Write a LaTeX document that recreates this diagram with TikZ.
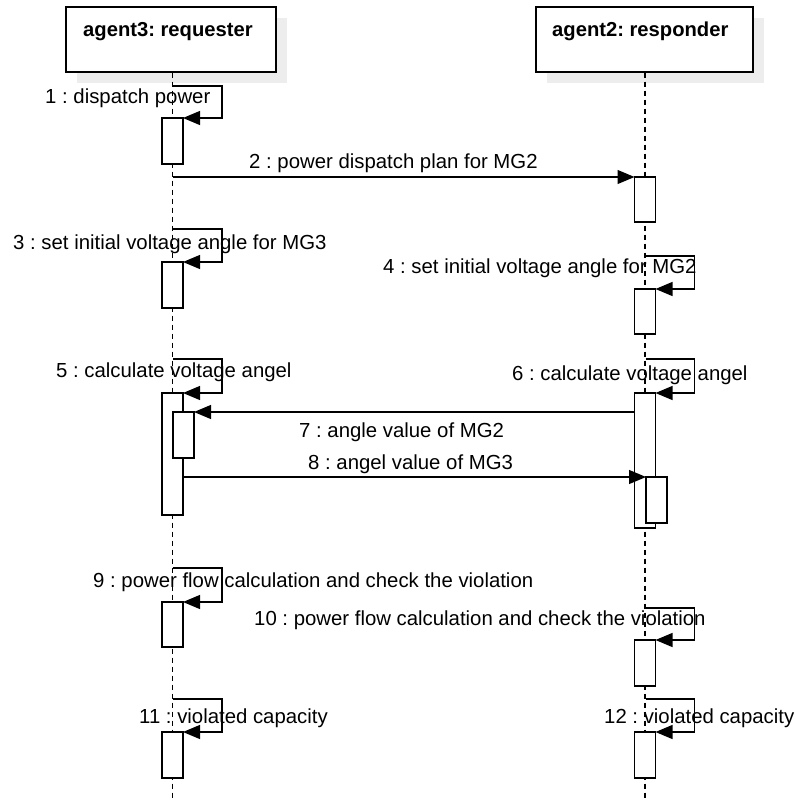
\documentclass[tikz,border=0pt]{standalone}
\usepackage{fontspec}
\setmainfont{Liberation Sans}
\usepackage{tikz}
\usetikzlibrary{shapes}
\usetikzlibrary{arrows.meta}
\usetikzlibrary{shadows}
\usetikzlibrary{positioning}
\frenchspacing

\begin{document}
\begin{tikzpicture}[x=1pt,y=-1pt]
			\tikzset{head/.style = {shape=rectangle,draw,fill=white,line width=1.2pt,
					minimum height=65pt,inner sep=0pt,
					general shadow={fill=black!7,shadow xshift=11pt,shadow yshift=-11pt}}}
			\tikzset{title/.style = {anchor=base west,inner sep=0pt,
					font=\fontsize{20.2}{24}\selectfont\bfseries}}
			\tikzset{act/.style = {shape=rectangle,draw,fill=white,line width=1.2pt,
					minimum width=21pt,inner sep=0pt,outer sep=0pt,anchor=north}}
			\tikzset{msg/.style = {-{Triangle[length=17pt,width=14pt]},line width=1.2pt}}
			\tikzset{lifeline/.style = {line width=1.2pt,dash pattern=on 5pt off 4pt}}
			\tikzset{txt/.style = {anchor=base west,inner sep=0pt,
					font=\fontsize{20.35}{24}\selectfont}}
			
			\useasboundingbox (0,0) rectangle (795,801);
			
			% heads
			\node[head,minimum width=210pt] (a3) at (171,39.5) {};
			\node[head,minimum width=217pt] (a2) at (644.5,39.5) {};
			\node[title] (t3) at (83,36) {agent3: requester};
			\node[title] (t2) at (552,36) {agent2: responder};
			
			% lifelines
			\coordinate (a3end) at (172.5,801);
			\coordinate (a2end) at (645,801);
			\draw[lifeline] (a3.south -| a3end) -- (a3end);
			\draw[lifeline] (a2.south -| a2end) -- (a2end);
			
			% activations
			\node[act,minimum height=46pt] (L1) at (172.5,118) {};
			\node[act,minimum height=45pt] (R2) at (645,177) {};
			\node[act,minimum height=46pt] (L3) at (172.5,262) {};
			\node[act,minimum height=45pt] (R4) at (645,289) {};
			\node[act,minimum height=122pt] (L5) at (172.5,393) {};
			\node[act,minimum height=135pt] (R6) at (645,393) {};
			\node[act,minimum height=46pt] (L7) at (183.5,412) {};
			\node[act,minimum height=46pt] (R8) at (656.5,477) {};
			\node[act,minimum height=45pt] (L9) at (172.5,602) {};
			\node[act,minimum height=46pt] (R10) at (645,640) {};
			\node[act,minimum height=46pt] (L11) at (172.5,732) {};
			\node[act,minimum height=46pt] (R12) at (645,732) {};
			
			% messages
			\draw[msg] (L1.north east) ++(-10,-32) -- ++(49,0) |- (L1.north east);
			\draw[msg] (a3end |- R2.north west) -- (R2.north west);
			\draw[msg] (L3.north east) ++(-10,-33) -- ++(49,0) |- (L3.north east);
			\draw[msg] (R4.north east) ++(-10,-33) -- ++(49,0) |- (R4.north east);
			\draw[msg] (L5.north east) ++(-10,-34) -- ++(49,0) |- (L5.north east);
			\draw[msg] (R6.north east) ++(-10,-34) -- ++(49,0) |- (R6.north east);
			\draw[msg] (R6.west |- L7.north) -- (L7.north east);
			\draw[msg] (L5.east |- R8.north west) -- (R8.north west);
			\draw[msg] (L9.north east) ++(-10,-34) -- ++(49,0) |- (L9.north east);
			\draw[msg] (R10.north east) ++(-10,-32) -- ++(49,0) |- (R10.north east);
			\draw[msg] (L11.north east) ++(-10,-33) -- ++(49,0) |- (L11.north east);
			\draw[msg] (R12.north east) ++(-10,-33) -- ++(49,0) |- (R12.north east);
			
			% labels
			\node[txt] (m1) at (45,103) {1 : dispatch power};
			\node[txt] (m2) at (249,168) {2 : power dispatch plan for MG2};
			\node[txt] (m3) at (13,249) {3 : set initial voltage angle for MG3};
			\node[txt] (m4) at (383,273) {4 : set initial voltage angle for MG2};
			\node[txt] (m5) at (56,377) {5 : calculate voltage angel};
			\node[txt] (m6) at (512,380) {6 : calculate voltage angel};
			\node[txt] (m7) at (299,437) {7 : angle value of MG2};
			\node[txt] (m8) at (308,469) {8 : angel value of MG3};
			\node[txt] (m9) at (93,587) {9 : power flow calculation and check the violation};
			\node[txt] (m10) at (254,625) {10 : power flow calculation and check the violation};
			\node[txt] (m11) at (139,723) {11 : violated capacity};
			\node[txt] (m12) at (604,723) {12 : violated capacity};
			
\end{tikzpicture}
\end{document}
